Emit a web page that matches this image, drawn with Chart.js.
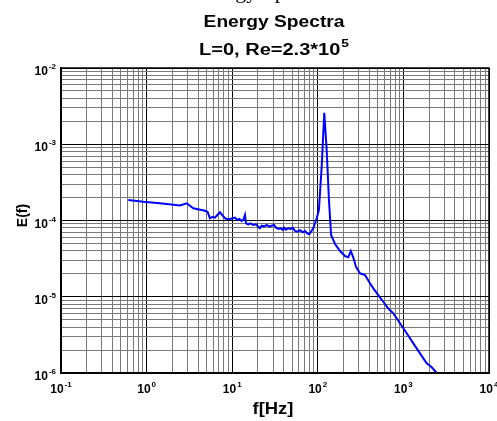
<!DOCTYPE html>
<html>
<head>
<meta charset="utf-8">
<script src="https://cdn.jsdelivr.net/npm/chart.js@4.4.0/dist/chart.umd.min.js"></script>
<style>
  html, body { margin: 0; padding: 0; background: #fff; }
  #wrap { width: 497px; height: 421px; }
</style>
</head>
<body>
<div id="wrap"><canvas id="spectrum" width="497" height="421"></canvas></div>
<script>
// Frequency [Hz] and energy
const freqHz = [
  0.611, 0.914, 1.43, 2.46, 2.94, 3.51, 4.69, 5.15,
  5.50, 5.92, 6.30, 6.70, 7.20, 7.74, 8.24, 8.77, 9.43, 10.1,
  10.8, 11.3, 12.1, 12.9, 13.5, 14.1, 14.5, 15.4, 16.4, 17.6,
  19.0, 20.2, 21.1, 22.1, 23.5, 25.3, 27.1, 28.9, 30.8, 32.5,
  34.6, 36.9, 38.9, 40.3, 42.5, 45.2, 48.2, 50.9, 54.2, 57.6,
  62.0, 66.6, 70.9, 75.4, 79.6, 88.5, 97.1,
  103, 111, 119, 127, 135, 143, 159, 182, 208, 227,
  243, 260, 279, 311, 356, 407, 445, 509, 582, 667,
  762, 912, 1093, 1306, 1563, 1871, 2143, 2449
];
const energy = [
  1.86e-4, 1.76e-4, 1.68e-4, 1.57e-4, 1.68e-4, 1.45e-4, 1.35e-4, 1.30e-4,
  1.07e-4, 1.12e-4, 1.09e-4, 1.18e-4, 1.28e-4, 1.16e-4, 1.07e-4, 1.05e-4, 1.05e-4, 1.07e-4,
  1.09e-4, 1.02e-4, 1.05e-4, 9.85e-5, 1.02e-4, 1.18e-4, 9.19e-5, 8.91e-5, 9.19e-5, 8.73e-5,
  8.91e-5, 8.29e-5, 7.91e-5, 8.55e-5, 8.39e-5, 8.73e-5, 8.29e-5, 8.55e-5, 8.73e-5, 8.05e-5,
  7.74e-5, 7.91e-5, 7.50e-5, 8.05e-5, 7.57e-5, 7.91e-5, 7.74e-5, 8.05e-5, 7.28e-5, 7.13e-5,
  7.44e-5, 7.00e-5, 7.28e-5, 6.79e-5, 6.59e-5, 7.9e-5, 1.07e-4,
  1.37e-4, 5.08e-4, 2.59e-3, 8.4e-4, 1.86e-4, 6.45e-5, 4.92e-5, 3.98e-5, 3.42e-5, 3.29e-5,
  3.98e-5, 3.27e-5, 2.48e-5, 2.03e-5, 1.93e-5, 1.50e-5, 1.29e-5, 1.05e-5, 8.6e-6, 7.0e-6,
  6.07e-6, 4.49e-6, 3.32e-6, 2.45e-6, 1.81e-6, 1.34e-6, 1.19e-6, 1.0e-6
];

// Axis decades (exponents of 10) and minor multipliers
const xDecades = [-1, 0, 1, 2, 3, 4];
const yDecades = [-6, -5, -4, -3, -2];
const minorSteps = [1, 2, 3, 4, 5, 6, 7, 8, 9];

const captionAbove = 'Energy Spectra'; // clipped caption line above the figure
const titleLine1 = 'Energy Spectra';
const titleLine2 = 'L=0, Re=2.3*10';
const titleSup = '5';
const xTitle = 'f[Hz]';
const yTitle = 'E(f)';

const FONT = '"Liberation Sans", Arial, sans-serif';
const SERIF = '"Liberation Serif", "Times New Roman", serif';

function decadeTicks(decades) {
  const out = [];
  for (let i = 0; i < decades.length; i++) {
    const d = decades[i];
    if (i === decades.length - 1) {
      out.push(Math.pow(10, d));
    } else {
      minorSteps.forEach(m => out.push(m * Math.pow(10, d)));
    }
  }
  return out;
}

function isDecade(v) {
  const l = Math.log10(v);
  return Math.abs(l - Math.round(l)) < 1e-9;
}

function gridColor(ctx) {
  return ctx.tick && isDecade(ctx.tick.value) ? '#000000' : '#7a7a7a';
}

// Draws "10" followed by a raised exponent; x is the anchor per align
function drawPower(ctx, exp, x, y, align) {
  ctx.font = 'bold 12px ' + FONT;
  const baseW = ctx.measureText('10').width;
  ctx.font = 'bold 8px ' + FONT;
  const expW = ctx.measureText(String(exp)).width;
  const total = baseW + expW + 1;
  let left = x;
  if (align === 'center') left = x - total / 2;
  if (align === 'right') left = x - total;
  ctx.textAlign = 'left';
  ctx.textBaseline = 'alphabetic';
  ctx.font = 'bold 12px ' + FONT;
  ctx.fillText('10', left, y);
  ctx.font = 'bold 8px ' + FONT;
  ctx.fillText(String(exp), left + baseW + 1, y - 6);
}

// Text stretched horizontally around its centre
function stretchedText(ctx, text, cx, y, sx) {
  ctx.save();
  ctx.translate(cx, y);
  ctx.scale(sx, 1);
  ctx.textAlign = 'center';
  ctx.fillText(text, 0, 0);
  ctx.restore();
}

const labelPlugin = {
  id: 'labelPlugin',
  afterDraw(chart) {
    const ctx = chart.ctx;
    const xs = chart.scales.x;
    const ys = chart.scales.y;
    const area = chart.chartArea;
    ctx.save();
    ctx.fillStyle = '#000';
    ctx.textBaseline = 'alphabetic';

    // bottom of the caption that sits above the figure
    ctx.font = '22px ' + SERIF;
    ctx.textAlign = 'left';
    ctx.fillText(captionAbove, 194, -2);

    xDecades.forEach(d => {
      drawPower(ctx, d, xs.getPixelForValue(Math.pow(10, d)), area.bottom + 20, 'center');
    });
    yDecades.forEach(d => {
      drawPower(ctx, d, area.left - 5, ys.getPixelForValue(Math.pow(10, d)) + 7, 'right');
    });

    const cx = 274;
    ctx.font = 'bold 16px ' + FONT;
    stretchedText(ctx, titleLine1, cx, 27, 1.2);

    // second title line with superscript exponent
    const sx2 = 1.25;
    const w2 = ctx.measureText(titleLine2).width * sx2;
    ctx.font = 'bold 11px ' + FONT;
    const ws = ctx.measureText(titleSup).width * sx2;
    const left2 = cx - (w2 + ws + 1) / 2;
    ctx.save();
    ctx.translate(left2, 55);
    ctx.scale(sx2, 1);
    ctx.textAlign = 'left';
    ctx.font = 'bold 16px ' + FONT;
    ctx.fillText(titleLine2, 0, 0);
    ctx.font = 'bold 11px ' + FONT;
    ctx.fillText(titleSup, (w2 + 1) / sx2, -8);
    ctx.restore();

    ctx.font = 'bold 16px ' + FONT;
    stretchedText(ctx, xTitle, 273, 414, 1.15);

    ctx.font = 'bold 14px ' + FONT;
    ctx.translate(27, 215.5);
    ctx.rotate(-Math.PI / 2);
    ctx.textAlign = 'center';
    ctx.fillText(yTitle, 0, 0);
    ctx.restore();
  }
};

const xTickValues = decadeTicks(xDecades);
const yTickValues = decadeTicks(yDecades);

const points = freqHz.map((f, i) => ({ x: f, y: energy[i] }));

new Chart(document.getElementById('spectrum').getContext('2d'), {
  type: 'line',
  data: {
    datasets: [{
      data: points,
      borderColor: '#0000ff',
      borderWidth: 2,
      pointRadius: 0,
      tension: 0,
      fill: false
    }]
  },
  options: {
    responsive: false,
    animation: false,
    devicePixelRatio: 1,
    layout: { padding: { left: 61, right: 8, top: 68, bottom: 48 } },
    plugins: {
      legend: { display: false },
      title: { display: false },
      tooltip: { enabled: false }
    },
    scales: {
      x: {
        type: 'logarithmic',
        min: 0.1,
        max: 10000,
        afterBuildTicks: s => { s.ticks = xTickValues.map(v => ({ value: v })); },
        ticks: { display: false, autoSkip: false },
        grid: { color: gridColor, lineWidth: 1, drawTicks: false },
        border: { color: '#000', width: 1.5 }
      },
      y: {
        type: 'logarithmic',
        min: 1e-6,
        max: 1e-2,
        afterBuildTicks: s => { s.ticks = yTickValues.map(v => ({ value: v })); },
        ticks: { display: false, autoSkip: false },
        grid: { color: gridColor, lineWidth: 1, drawTicks: false },
        border: { color: '#000', width: 1.5 }
      }
    }
  },
  plugins: [labelPlugin, {
    id: 'frame',
    afterDraw(chart) {
      const a = chart.chartArea;
      const ctx = chart.ctx;
      ctx.save();
      ctx.strokeStyle = '#000';
      ctx.lineWidth = 1.5;
      ctx.strokeRect(a.left, a.top, a.right - a.left, a.bottom - a.top);
      ctx.restore();
    }
  }]
});
</script>
</body>
</html>
